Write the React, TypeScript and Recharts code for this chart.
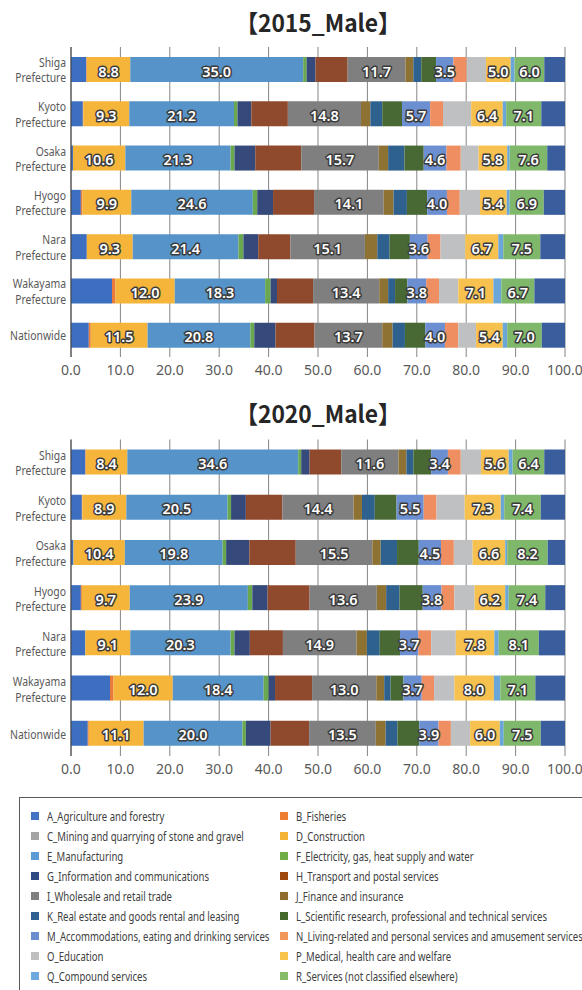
import type { CSSProperties } from "react";
import { Bar, BarChart, CartesianGrid, LabelList, XAxis, YAxis } from "recharts";

const regions = [
  "Shiga Prefecture",
  "Kyoto Prefecture",
  "Osaka Prefecture",
  "Hyogo Prefecture",
  "Nara Prefecture",
  "Wakayama Prefecture",
  "Nationwide",
];

const industryKeys = ["A", "B", "C", "D", "E", "F", "G", "H", "I", "J", "K", "L", "M", "N", "O", "P", "Q", "R", "S"];

const industryNames = [
  "A_Agriculture and forestry",
  "B_Fisheries",
  "C_Mining and quarrying of stone and gravel",
  "D_Construction",
  "E_Manufacturing",
  "F_Electricity, gas, heat supply and water",
  "G_Information and communications",
  "H_Transport and postal services",
  "I_Wholesale and retail trade",
  "J_Finance and insurance",
  "K_Real estate and goods rental and leasing",
  "L_Scientific research, professional and technical services",
  "M_Accommodations, eating and drinking services",
  "N_Living-related and personal services and amusement services",
  "O_Education",
  "P_Medical, health care and welfare",
  "Q_Compound services",
  "R_Services (not classified elsewhere)",
  "S_Other",
];

const barColors = [
  "#3d6fc0", "#e97a3c", "#a5a5a5", "#f5b53b", "#5593c9", "#6aa84f", "#354a7b",
  "#8f4a2d", "#7f7f7f", "#8e7234", "#2f618e", "#496934", "#6b8fd0", "#ee8e61",
  "#bfc0c2", "#f6c14e", "#6aa7d8", "#80b86b", "#3a5e9d",
];

const legendColors = [
  "#4472c4", "#ed7d31", "#a5a5a5", "#f5b335", "#5b9bd5", "#70ad47", "#2f4a80",
  "#9e480e", "#7f7f7f", "#8e6d2e", "#2f6090", "#43682b", "#698ed0", "#f1975a",
  "#bfbfbf", "#f8c44b", "#6fa8dc", "#85bd6b",
];

const labeledKeys = ["D", "E", "I", "M", "P", "R"];

// A..S per region, in the order of regions
const male2015 = [
  [3.1, 0.1, 0.0, 8.8, 35.0, 0.7, 1.8, 6.5, 11.7, 1.6, 1.6, 3.0, 3.5, 2.7, 3.9, 5.0, 0.8, 6.0, 4.2],
  [2.4, 0.1, 0.0, 9.3, 21.2, 0.7, 2.8, 7.4, 14.8, 1.9, 2.4, 4.0, 5.7, 2.6, 5.7, 6.4, 0.7, 7.1, 4.8],
  [0.4, 0.0, 0.0, 10.6, 21.3, 0.8, 4.2, 9.3, 15.7, 1.9, 3.3, 3.9, 4.6, 2.9, 3.6, 5.8, 0.5, 7.6, 3.6],
  [2.0, 0.3, 0.0, 9.9, 24.6, 0.9, 3.2, 8.3, 14.1, 2.0, 2.7, 4.1, 4.0, 2.6, 4.1, 5.4, 0.6, 6.9, 4.3],
  [3.2, 0.0, 0.0, 9.3, 21.4, 1.0, 3.0, 6.5, 15.1, 2.5, 2.5, 4.1, 3.6, 2.6, 5.0, 6.7, 1.0, 7.5, 5.0],
  [8.3, 0.7, 0.0, 12.0, 18.3, 1.1, 1.3, 7.3, 13.4, 1.8, 1.4, 2.5, 3.8, 2.6, 3.9, 7.1, 1.6, 6.7, 6.2],
  [3.6, 0.4, 0.0, 11.5, 20.8, 0.8, 4.3, 7.9, 13.7, 2.1, 2.5, 4.1, 4.0, 2.7, 3.6, 5.4, 0.9, 7.0, 4.7],
];

const male2020 = [
  [2.9, 0.1, 0.0, 8.4, 34.6, 0.6, 1.7, 6.4, 11.6, 1.6, 1.4, 3.6, 3.4, 2.6, 4.1, 5.6, 0.8, 6.4, 4.2],
  [2.2, 0.1, 0.0, 8.9, 20.5, 0.7, 3.0, 7.4, 14.4, 1.7, 2.6, 4.4, 5.5, 2.6, 5.7, 7.3, 0.7, 7.4, 4.9],
  [0.5, 0.0, 0.0, 10.4, 19.8, 0.7, 4.7, 9.4, 15.5, 1.7, 3.3, 4.4, 4.5, 2.6, 3.8, 6.6, 0.4, 8.2, 3.5],
  [2.0, 0.2, 0.0, 9.7, 23.9, 0.9, 3.1, 8.5, 13.6, 1.9, 2.7, 4.7, 3.8, 2.6, 4.1, 6.2, 0.7, 7.4, 4.0],
  [2.9, 0.0, 0.0, 9.1, 20.3, 0.8, 3.1, 6.7, 14.9, 2.1, 2.6, 4.1, 3.7, 2.6, 5.0, 7.8, 0.9, 8.1, 5.3],
  [7.9, 0.7, 0.0, 12.0, 18.4, 1.0, 1.3, 7.5, 13.0, 1.6, 1.3, 2.6, 3.7, 2.5, 4.1, 8.0, 1.3, 7.1, 6.0],
  [3.4, 0.2, 0.0, 11.1, 20.0, 0.7, 5.0, 7.8, 13.5, 2.0, 2.4, 4.4, 3.9, 2.5, 3.9, 6.0, 0.8, 7.5, 4.9],
];

const xTicks = [0, 10, 20, 30, 40, 50, 60, 70, 80, 90, 100];

function buildRows(values: number[][]) {
  return regions.map((region, i) => {
    const row: Record<string, string | number> = { region };
    industryKeys.forEach((k, j) => {
      row[k] = values[i][j];
    });
    return row;
  });
}

const FONT = '"Noto Sans", "Open Sans", sans-serif';

function RegionTick(props: any) {
  const { x, y, payload } = props;
  const text: string = payload.value;
  const parts = text.includes(" ") ? text.split(" ") : [text];
  const lh = 15.5;
  const y0 = y - ((parts.length - 1) * lh) / 2;
  // the source font is a narrow one, so squeeze the text horizontally
  return (
    <g transform={`translate(${x},0) scale(0.77,1) translate(${-x},0)`}>
      <text
        x={x}
        y={y0}
        textAnchor="end"
        fill="#595959"
        fontSize={13.5}
        fontFamily={FONT}
        dominantBaseline="central"
      >
        {parts.map((p, i) => (
          <tspan key={i} x={x} y={y0 + i * lh}>
            {p}
          </tspan>
        ))}
      </text>
    </g>
  );
}

function ValueLabel(props: any) {
  const { x, y, width, height, value } = props;
  return (
    <text
      x={x + width / 2}
      y={y + height / 2 + 1}
      textAnchor="middle"
      dominantBaseline="central"
      fontSize={14.5}
      fontWeight={600}
      fontFamily={FONT}
      fill="#ffffff"
      stroke="#3a3a3a"
      strokeWidth={3}
      strokeLinejoin="round"
      paintOrder="stroke"
    >
      {Number(value).toFixed(1)}
    </text>
  );
}

function StackChart({ values, top, height, marginTop }: { values: number[][]; top: number; height: number; marginTop: number }) {
  const data = buildRows(values);
  return (
    <div style={{ position: "absolute", left: 0, top }}>
      <BarChart
        width={582}
        height={height}
        data={data}
        layout="vertical"
        margin={{ top: marginTop, right: 17, left: 0, bottom: 0 }}
        barSize={25}
      >
        <CartesianGrid horizontal={false} stroke="#858585" strokeWidth={1} />
        <XAxis
          type="number"
          domain={[0, 100]}
          ticks={xTicks}
          allowDataOverflow
          axisLine={false}
          tickLine={false}
          tickSize={6}
          tickMargin={2}
          height={28}
          interval={0}
          tickFormatter={(v: number) => v.toFixed(1)}
          tick={{ fill: "#595959", fontSize: 14, fontFamily: FONT }}
        />
        <YAxis
          type="category"
          dataKey="region"
          width={71}
          axisLine={{ stroke: "#404040" }}
          tickLine={false}
          tickSize={0}
          tickMargin={5}
          interval={0}
          tick={<RegionTick />}
        />
        {industryKeys.map((k, j) => (
          <Bar key={k} dataKey={k} stackId="a" fill={barColors[j]} isAnimationActive={false}>
            {labeledKeys.includes(k) && <LabelList dataKey={k} content={<ValueLabel />} />}
          </Bar>
        ))}
      </BarChart>
    </div>
  );
}

export default function App() {
  return (
    <div style={styles.page}>
      <div style={{ ...styles.title, top: 6 }}>【2015_Male】</div>
      <StackChart values={male2015} top={0} height={385} marginTop={47} />
      <div style={{ ...styles.title, top: 397 }}>【2020_Male】</div>
      <StackChart values={male2020} top={392} height={392} marginTop={47.5} />
      <div style={styles.legendBox}>
        {industryNames.slice(0, 18).map((name, i) => (
          <div
            key={name}
            style={{
              ...styles.legendItem,
              left: i % 2 === 0 ? 11 : 260,
              top: 10 + Math.floor(i / 2) * 20,
            }}
          >
            <span style={{ ...styles.swatch, background: legendColors[i] }} />
            <span style={styles.legendText}>{name}</span>
          </div>
        ))}
      </div>
    </div>
  );
}

const styles: Record<string, CSSProperties> = {
  page: {
    position: "absolute",
    left: 0,
    top: 0,
    width: 582,
    height: 990,
    overflow: "hidden",
    background: "#ffffff",
  },
  title: {
    position: "absolute",
    left: 168,
    width: 300,
    textAlign: "center",
    fontSize: 24,
    fontWeight: 600,
    color: "#262626",
    fontFamily: '"Noto Sans CJK JP", "Noto Sans", sans-serif',
    lineHeight: "32px",
    transform: "scaleX(0.95)",
  },
  legendBox: {
    position: "absolute",
    left: 19,
    top: 797,
    width: 600,
    height: 220,
    border: "1px solid #595959",
    boxSizing: "border-box",
  },
  legendItem: {
    position: "absolute",
    display: "flex",
    alignItems: "center",
    whiteSpace: "nowrap",
    fontSize: 13,
    lineHeight: "16px",
    color: "#404040",
    fontFamily: FONT,
  },
  swatch: {
    display: "inline-block",
    width: 8,
    height: 8,
    marginRight: 8,
    flex: "none",
  },
  legendText: {
    display: "inline-block",
    transform: "scaleX(0.735)",
    transformOrigin: "left center",
  },
};
